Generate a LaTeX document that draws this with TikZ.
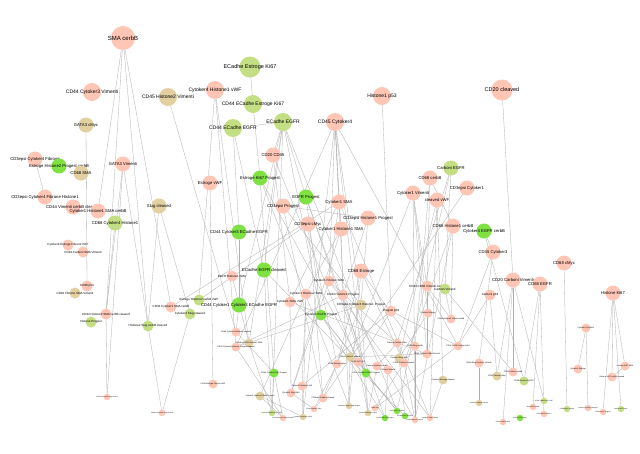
\documentclass[tikz,border=0pt]{standalone}
\usepackage{fontspec}
\setmainfont{Liberation Sans}
\usetikzlibrary{backgrounds}
\definecolor{pinkfill}{RGB}{255,198,182}
\definecolor{tanfill}{RGB}{226,208,160}
\definecolor{olivefill}{RGB}{196,222,132}
\definecolor{greenfill}{RGB}{128,226,66}
\definecolor{edgegray}{RGB}{175,175,175}
\newcommand\lw{0.3pt}

\begin{document}
\begin{tikzpicture}[x=1pt, y=-1pt,
  base/.style={circle, inner sep=0pt, outer sep=0pt},
  pk/.style={base, fill=pinkfill},
  tn/.style={base, fill=tanfill},
  ol/.style={base, fill=olivefill},
  gr/.style={base, fill=greenfill},
  szA/.style={minimum size=24pt, label={[font=\fontsize{6}{7}\selectfont]center:#1}},
  szB/.style={minimum size=21pt, label={[font=\fontsize{5.5}{6}\selectfont]center:#1}},
  szC/.style={minimum size=18pt, label={[font=\fontsize{5}{6}\selectfont]center:#1}},
  szD/.style={minimum size=15pt, label={[font=\fontsize{4.2}{5}\selectfont]center:#1}},
  szE/.style={minimum size=11pt, label={[font=\fontsize{3}{4}\selectfont]center:#1}},
  szF/.style={minimum size=9pt, label={[font=\fontsize{2}{2.5}\selectfont]center:#1}},
  szG/.style={minimum size=6.5pt, label={[font=\fontsize{1.6}{2}\selectfont]center:#1}},
  edge/.style={draw=edgegray, line width=\lw}]
\useasboundingbox (0,0) rectangle (640,453);

% top row
\node at (123,38) [pk, szA=SMA cerbB] (smacerbB) {};
\node at (250,67) [ol, szB=ECadhe Estroge Ki67] (eek) {};
\node at (92,92) [pk, szC=CD44 Cytoker3 Vimenti] (cdcv) {};
\node at (215,90) [pk, szC=Cytoker4 Histone1 vWF] (chv) {};
\node at (168,97) [tn, szC=CD45 Histone2 Vimenti] (chvim) {};
\node at (253,104) [ol, szC=CD44 ECadhe Estroge Ki67] (ceek) {};
\node at (382,96) [pk, szC=Histone1 p53] (hp53) {};
\node at (502,90) [pk, szB=CD20 cleaved] (cd20cl) {};
\node at (86,125) [tn, szD=GATA3 cMyc] (gcmyc) {};
\node at (233,128) [ol, szC=CD44 ECadhe EGFR] (ceegfr) {};
\node at (283,122) [ol, szC=ECadhe EGFR] (eegfr) {};
\node at (335,122) [pk, szC=CD45 Cytoker4] (c45c4) {};
\node at (273,155) [pk, szD=CD20 CD45] (cd20cd45) {};

% second row
\node at (35,159) [pk, szD=CD3epsi Cytoker4 Fibrone] (cd3cf) {};
\node at (59,166) [gr, szD=Estroge Histone2 Progest cerbB] (ehpc) {};
\node at (81,173) [tn, szD=CD68 SMA] (cd68sma) {};
\node at (123,164) [pk, szD=GATA3 Vimenti] (g3vim) {};
\node at (210,183) [pk, szD=Estroge vWF] (evwf) {};
\node at (260,178) [gr, szD=Estroge Ki67 Progest] (ekp) {};
\node at (451,168) [ol, szD=Carboni EGFR] (carbegfr) {};
\node at (430,178) [pk, szD=CD68 cerbB] (cd68cerb) {};
\node at (467,188) [pk, szD=CD3epsi Cytoker1] (cd3c1) {};
\node at (413,193) [pk, szD=Cytoker1 Vimenti] (c1vim) {};
\node at (437,200) [pk, szD=cleaved vWF] (clvwf) {};
\node at (45,197) [pk, szD=CD3epsi Cytoker4 Fibrone Histone1] (cd3cfh) {};
\node at (73,207) [pk, szD=CD44 Vimenti cerbB cleaved] (cvcc) {};
\node at (98,211) [pk, szD=Cytoker1 Histone1 SMA cerbB] (chsc) {};
\node at (115,223) [ol, szD=CD68 Cytoker4 Histone1] (cd68ch) {};
\node at (159,206) [tn, szD=Slug cleaved] (slugcl) {};
\node at (306,197) [gr, szD=EGFR Progest] (egfrpr) {};
\node at (283,206) [pk, szD=CD3epsi Progest] (cd3pr) {};
\node at (339,202) [pk, szD=Cytoker1 SMA] (c1sma) {};
\node at (368,218) [pk, szD=CD3epsi Histone1 Progest] (cd3hp) {};
\node at (308,224) [pk, szD=CD3epsi cMyc] (cd3cmyc) {};
\node at (341,229) [pk, szD=Cytoker1 Histone1 SMA] (c1hsma) {};
\node at (453,226) [pk, szD=CD68 Histone1 cerbB] (cd68hc) {};
\node at (484,231) [gr, szD=Cytoker4 EGFR cerbB] (c4ec) {};
\node at (239,232) [gr, szD=CD44 Cytoker3 ECadhe EGFR] (cc3ee) {};

% middle
\node at (68,245) [pk, szE=Cytoker4 Estroge Fibrone Ki67] (cefk) {};
\node at (83,252) [pk, szE=CD44 Carboni SMA Vimenti] (ccsv) {};
\node at (493,252) [pk, szD=CD45 Cytoker3] (cd45c3) {};
\node at (564,263) [pk, szD=CD68 cMyc] (cd68cmyc) {};
\node at (232,276) [pk, szE=EGFR Histone1 SMA] (egfrhs) {};
\node at (264,270) [gr, szD=ECadhe EGFR cleaved] (eegfrcl) {};
\node at (361,271) [pk, szD=CD68 Estroge] (cd68es) {};
\node at (513,280) [pk, szD=CD20 Carboni Vimenti] (cd20cv) {};
\node at (540,284) [pk, szD=CD68 EGFR] (cd68egfr) {};
\node at (613,293) [pk, szD=Histone Ki67] (hki67) {};
\node at (329,281) [pk, szE=Cytoker1 Fibrone SMA] (c1fsma) {};
\node at (427,286) [pk, szE=CD44 CD68 Vimenti cerbB] (ccvc) {};
\node at (445,289) [ol, szE=Carboni Vimenti] (carbvim) {};
\node at (490,295) [pk, szE=Carboni p53] (carbp53) {};
\node at (87,286) [pk, szE=CD68 p53] (cd68p53) {};
\node at (75,293) [tn, szE=CD20 Fibrone SMA Vimenti] (cfsv) {};
\node at (306,294) [pk, szE=Cytoker1 Histone2 SMA] (c1h2sma) {};
\node at (343,295) [pk, szE=CD44 Histone1 Progest] (chp) {};
\node at (199,300) [ol, szE=Estroge Histone2 cerbB vWF] (ehcv) {};
\node at (171,307) [pk, szE=CD44 Cytoker1 SMA cerbB] (ccsc) {};
\node at (239,305) [gr, szD=CD44 Cytoker1 Cytoker3 ECadhe EGFR] (cc1c3ee) {};
\node at (290,302) [pk, szE=Cytoker1 SMA vWF] (c1smavwf) {};
\node at (361,305) [tn, szE=CD3epsi Cytoker4 Histone1 Progest] (cd3chp) {};
\node at (391,311) [pk, szE=Progest p53] (prp53) {};
\node at (190,314) [ol, szE=Cytoker4 Slug cleaved] (c4slug) {};
\node at (321,315) [gr, szE=Cytoker1 EGFR Progest] (c1ep) {};
\node at (106,314) [pk, szE=CD44 Histone2 SMA cerbB cleaved] (chscc) {};
\node at (91,322) [ol, szE=Histone Progest] (hprog) {};
\node at (148,326) [ol, szE=Histone2 Slug cerbB cleaved] (h2scc) {};

% lower middle
\node at (428,313) [pk, szF=Cytoker4 Vimenti] (c4vim) {};
\node at (451,319) [pk, szF=CD68 Histone2 Vimenti cerbB] (cd68hvc) {};
\node at (586,328) [pk, szF=Cytoker4 Cytoker1] (c4c1) {};
\node at (236,332) [pk, szF=CD44 Cytoker1 Histone2 cleaved] (cc1hcl) {};
\node at (249,343) [tn, szF=ECadhe EGFR Histone1 SMA] (eehs) {};
\node at (236,347) [pk, szF=CD44 Cytoker4 Histone1 Progest cleaved] (cchpc) {};
\node at (397,343) [pk, szF=Fibrone Carboni SMA] (fcs) {};
\node at (415,346) [pk, szF=CD68 Slug cerbB] (cd68sl) {};
\node at (458,346) [pk, szF=CD44 CD45 Cytoker4 p53] (ccc4) {};
\node at (427,354) [pk, szF=CD44 Cytoker1 SMA Vimenti] (cc1sv) {};
\node at (350,357) [tn, szF=CD44 Cytoker1 Vimenti] (cc1v) {};
\node at (337,364) [pk, szF=CD68 Estroge cMyc] (cd68ecm) {};
\node at (358,362) [pk, szF=CD20 Ki67 p53] (ckp) {};
\node at (366,373) [gr, szF=CD44 Cytoker1 EGFR Progest] (cc1ep) {};
\node at (377,366) [pk, szF=Carboni Histone1 cerbB] (chcb) {};
\node at (388,370) [pk, szF=CD3epsi Vimenti] (cd3vim) {};
\node at (399,358) [tn, szF=Cytoker4 Slug vWF] (c4sv) {};
\node at (404,363) [pk, szF=CD68 Carboni Histone1] (cd68carbh) {};
\node at (443,380) [tn, szF=Cytoker4 Estroge cleaved] (c4ecl) {};
\node at (479,363) [pk, szF=CD68 Slug Cytoker1 Vimenti] (cd68scv) {};
\node at (497,376) [tn, szF=CD20 Carboni cMyc] (cd20cm) {};
\node at (513,372) [pk, szF=CD20 Carboni cerbB] (cd20cc) {};
\node at (524,381) [ol, szF=CD68 Cytoker4 EGFR] (cd68c4e) {};
\node at (578,369) [pk, szF=Cytoker1 Estroge] (c1es) {};
\node at (625,366) [pk, szF=Histone Ki67 SMA] (hks) {};
\node at (612,377) [pk, szF=Histone Ki67 cerbB cleaved] (hkcc) {};
\node at (274,373) [gr, szF=CD44 Cytoker1 Ki67 Progest] (cc1k) {};
\node at (213,384) [pk, szF=CD44 Estroge Fibrone vWF] (cefv) {};
\node at (302,386) [pk, szF=Cytoker1 Histone2 p53] (c1h2p) {};
\node at (291,393) [pk, szF=Cytoker1 Slug SMA] (c1ss) {};
\node at (260,396) [tn, szF=Cytoker1 Histone2 SMA Progest] (c1h2sp) {};
\node at (323,398) [pk, szF=CD3epsi Carboni cleaved] (cd3ccl) {};

% bottom row
\node at (107,397) [pk, szG=GATA3 Histone2 Slug Vimenti] (ghsv) {};
\node at (162,413) [pk, szG=Carboni Histone2 Slug cleaved] (chslc) {};
\node at (314,409) [pk, szG=CD68 Cytoker1 cMyc] (cd68c1m) {};
\node at (349,406) [tn, szG=Cytoker4 Estroge SMA Progest] (c4esp) {};
\node at (368,413) [tn, szG=Cytoker4 Histone1 cerbB] (c4hc) {};
\node at (375,408) [pk, szG=CD44 Slug] (cdslug) {};
\node at (397,411) [gr, szG=EGFR Ki67 cleaved] (ekcl) {};
\node at (385,418) [gr, szG=Cytoker4 EGFR Progest] (c4ep) {};
\node at (405,416) [gr, szG=ECadhe Ki67 cleaved] (ekc) {};
\node at (415,420) [pk, szG=CD68 Histone1 Vimenti] (cd68hv) {};
\node at (430,418) [pk, szG=Cytoker1 SMA cleaved] (c1scl) {};
\node at (272,413) [ol, szG=Cytoker4 ECadhe EGFR Ki67] (c4eek) {};
\node at (283,418) [pk, szG=CD44 Histone2 Vimenti cerbB] (chvc) {};
\node at (303,417) [tn, szG=Cytoker4 Histone2 cerbB] (c4h2c) {};
\node at (479,403) [tn, szG=Cytoker4 Carboni cleaved] (c4ccl) {};
\node at (544,401) [ol, szG=CD20 Carboni Ki67 vWF] (cckv) {};
\node at (533,407) [pk, szG=CD68 EGFR SMA] (cd68es2) {};
\node at (544,414) [pk, szG=CD68 EGFR Vimenti] (cd68ev) {};
\node at (567,409) [ol, szG=CD68 cMyc cleaved] (cd68mc) {};
\node at (588,408) [pk, szG=Cytoker4 Cytoker1 cleaved] (c4c1cl) {};
\node at (603,412) [pk, szG=Histone Ki67 Progest] (hkp) {};
\node at (621,409) [ol, szG=Histone Ki67 cMyc] (hkm) {};
\node at (520,418) [gr, szG=CD20 EGFR cerbB] (cd20ec) {};
\node at (503,422) [pk, szG=CD20 Carboni SMA] (cd20cs) {};

\begin{scope}[on background layer]
\fill[white] (0,0) rectangle (640,453);
\foreach \a/\b in {smacerbB/chsc, smacerbB/chscc, smacerbB/ccsc, smacerbB/h2scc,
  eek/ceek, ceek/ekp, ceegfr/eegfr, ceegfr/cc3ee, ceegfr/eegfrcl, cc3ee/cc1c3ee,
  eegfr/eegfrcl, eegfr/eehs, eegfr/c4eek, eegfr/c1ep, eegfr/egfrpr, eegfr/cc1c3ee,
  eegfr/ekcl, eegfr/cd20cd45,
  c45c4/c1sma, c45c4/c1hsma, c45c4/c1fsma, c45c4/cd3chp, c45c4/c4h2c, c45c4/ccc4, c45c4/cchpc,
  c45c4/c4esp, c45c4/c4hc,
  hp53/prp53, cd20cl/cd20cv, gcmyc/cd68p53, cd3cf/cd3cfh, chvim/cc1hcl,
  chv/ehcv, chv/eehs, chv/cchpc, g3vim/ghsv, g3vim/h2scc, g3vim/chscc,
  slugcl/c4slug, slugcl/h2scc, cd68ch/chscc, chscc/ghsv, h2scc/chslc, chslc/c4slug,
  ehcv/cd3cmyc, cc1c3ee/cc1hcl, evwf/cefv, ekp/cc1k, ekp/cc1ep, ekp/c4esp,
  egfrpr/c1ep, egfrpr/cc1ep, egfrpr/c4ep, cd3pr/cd3hp, cd3pr/cd3chp, cd3pr/cd3ccl,
  c1sma/c1hsma, c1sma/c1fsma, c1sma/c1smavwf, c1sma/c1scl, c1sma/ccsc,
  cd3hp/cd3chp, cd3hp/chp, cd3cmyc/cd68ecm, cd3cmyc/cd3ccl,
  c1hsma/c1h2sma, c1hsma/chp, c1hsma/c1ss, cd20cd45/ckp, cd20cd45/c1smavwf,
  eegfrcl/c4eek, eegfrcl/ekc, egfrhs/eehs, cd68es/cd68ecm, cd68es/c4esp, cd68es/cd68sl,
  cd68es/cd68carbh, c1fsma/c1ss, c1fsma/c1scl, c1fsma/fcs, c1h2sma/c1h2sp, c1h2sma/c1h2p,
  c1h2sma/c4h2c, chp/cchpc, chp/cc1ep, chp/cd68hv, c1smavwf/c1ss, c1smavwf/cc1sv,
  cd3chp/cchpc, cd3chp/c4hc, cd3chp/cd3ccl, prp53/c1h2p, prp53/ccc4, prp53/ckp,
  c1ep/cc1ep, c1ep/c4ep, c1ep/ekcl, c4vim/c4sv, c4vim/cc1sv,
  carbegfr/carbvim, carbegfr/fcs, carbegfr/ekcl, cd68cerb/cd68hc, cd68cerb/ccvc, cd68cerb/cd68sl,
  cd3c1/cd3ccl, c1vim/c4vim, c1vim/cc1sv, c1vim/ccvc, c1vim/cc1v, c1vim/cd68hv,
  clvwf/c4sv, clvwf/c4ecl, clvwf/c1scl, cd68hc/cd68hvc, cd68hc/cd68carbh, cd68hc/cd68hv,
  c4ec/cd45c3, c4ec/cd68c4e, cd45c3/ccc4, cd45c3/cd68scv, cd68cmyc/cd68mc,
  cd20cv/cd20cm, cd20cv/cd20cc, cd20cv/cckv, cd20cv/cd20cs, cd68egfr/cd68es2,
  cd68egfr/cd68ev, cd68egfr/cd68c4e, hki67/hkp, hki67/hkm, hki67/hks, hki67/hkcc,
  c4c1/c4c1cl, c4c1/c1es, hks/hkcc, carbvim/cd68hvc, carbvim/cd20cc, ccvc/cd68hvc,
  ccvc/cc1sv, cd68scv/c4ccl, fcs/cd68carbh, fcs/chcb, cd68sl/cd68hv, cd68sl/cdslug,
  ccc4/cdslug, cc1v/c4esp, cc1v/cc1sv, cd68ecm/cd68c1m, ckp/c4hc, cc1ep/ekcl,
  chcb/c4hc, cd3vim/c4ep, c4sv/ekc, cd68carbh/cd68hv, c4ecl/c1scl, cc1k/c4eek,
  cc1k/chvc, c1h2sp/chvc, c1h2sp/c4h2c, c1ss/cd68c1m, c1h2p/c4h2c, cd3ccl/cd68c1m,
  eehs/c4eek, cchpc/chvc, cc1hcl/cc1k, carbp53/ccc4, carbp53/cd20cm}
  \draw[edge] (\a) -- (\b);
\end{scope}
\end{tikzpicture}
\end{document}
